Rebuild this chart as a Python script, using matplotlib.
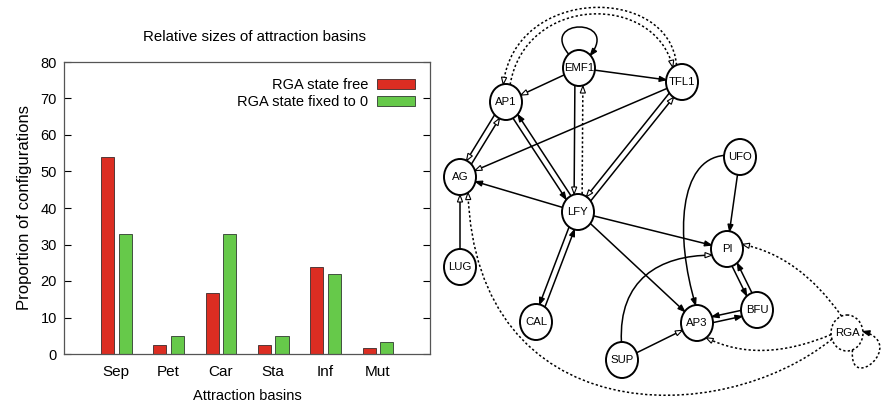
import matplotlib
matplotlib.use("Agg")
import matplotlib.pyplot as plt
import numpy as np
from matplotlib.patches import Ellipse, Polygon, PathPatch
from matplotlib.path import Path

# bar chart data
basins = ["Sep", "Pet", "Car", "Sta", "Inf", "Mut"]
rga_free = [54.0, 2.5, 16.7, 2.5, 23.7, 1.7]
rga_fixed = [33.0, 4.8, 33.0, 4.8, 22.0, 3.3]

# regulatory network, node centres in pixels (y grows downwards)
genes = ["EMF1", "TFL1", "AP1", "AG", "LFY", "UFO", "LUG",
         "PI", "CAL", "AP3", "BFU", "SUP", "RGA"]
gene_x = [579, 682, 506, 460, 578, 740, 460, 727, 536, 697, 757, 622, 847]
gene_y = [68, 82, 102, 177, 212, 157, 267, 249, 322, 323, 310, 360, 333]

# straight interactions: source, target, line, head, side shift
links = [
    ("EMF1", "TFL1", "solid", "fill", 0),
    ("EMF1", "AP1", "solid", "open", 0),
    ("EMF1", "LFY", "solid", "open", 4),
    ("LFY", "EMF1", "dashed", "open", 4),
    ("TFL1", "AG", "solid", "open", 0),
    ("LFY", "TFL1", "solid", "open", 3),
    ("TFL1", "LFY", "solid", "open", 3),
    ("AP1", "AG", "solid", "open", 3),
    ("AG", "AP1", "solid", "open", 3),
    ("AP1", "LFY", "solid", "fill", 3),
    ("LFY", "AP1", "solid", "fill", 3),
    ("LFY", "AG", "solid", "fill", 0),
    ("LUG", "AG", "solid", "open", 0),
    ("LFY", "CAL", "solid", "fill", 3),
    ("CAL", "LFY", "solid", "fill", 3),
    ("LFY", "PI", "solid", "fill", 0),
    ("LFY", "AP3", "solid", "fill", 0),
    ("UFO", "PI", "solid", "fill", 0),
    ("SUP", "AP3", "solid", "open", 0),
    ("AP3", "BFU", "solid", "fill", 3),
    ("BFU", "AP3", "solid", "fill", 3),
    ("PI", "BFU", "solid", "fill", 3),
    ("BFU", "PI", "solid", "fill", 3),
]

# curved interactions: source, angle, target, angle, handle at source, handle at target, line, head
arcs = [
    ("EMF1", 130, "EMF1", 45, (-30, -36), (30, -38), "solid", "fill"),
    ("TFL1", 110, "AP1", 100, (-7, -80), (12, -99), "dashed", "open"),
    ("AP1", 75, "TFL1", 125, (15, -90), (-18, -75), "dashed", "open"),
    ("UFO", 175, "AP3", 95, (-45, 4), (-21, -70), "solid", "fill"),
    ("SUP", 92, "PI", 200, (-3, -62), (-53, 0), "solid", "open"),
    ("RGA", 200, "AG", 300, (-113, 91), (8, 237), "dashed", "open"),
    ("RGA", 185, "AP3", 305, (-48, 20), (36, 18), "dashed", "open"),
    ("RGA", 110, "PI", 15, (-29, -41), (38, 8), "dashed", "open"),
    ("RGA", 290, "RGA", 5, (-4, 45), (45, 12), "dashed", "fill"),
]

RX, RY = 16, 18
DOTS = (0, (1.5, 1.5))
pos = {g: np.array([x, y], float) for g, x, y in zip(genes, gene_x, gene_y)}


def rim(u):
    return 1.0 / np.hypot(u[0] / RX, u[1] / RY)


def rim_point(name, ang):
    a = np.radians(ang)
    return pos[name] + np.array([RX * np.cos(a), -RY * np.sin(a)])


def draw_head(ax, tip, d, kind):
    d = d / np.hypot(*d)
    n = np.array([-d[1], d[0]])
    base = tip - 7 * d
    pts = [tip, base + 2.6 * n, base - 2.6 * n]
    ax.add_patch(Polygon(pts, closed=True, lw=0.8, ec="black",
                         fc="black" if kind == "fill" else "white", zorder=4))


fig = plt.figure(figsize=(8.83, 4.11), dpi=100)
plt.rcParams["font.family"] = ["Liberation Sans", "DejaVu Sans"]

# ---- left: bar chart ----
ax = fig.add_axes([64 / 883, 1 - 354 / 411, 366 / 883, 292 / 411])
x = np.arange(len(basins))
ax.bar(x - 0.165, rga_free, 0.25, color="#dc2d22", edgecolor="#3a2a2a", lw=0.6,
       label="RGA state free")
ax.bar(x + 0.17, rga_fixed, 0.25, color="#66c94a", edgecolor="#2f3a2f", lw=0.6,
       label="RGA state fixed to 0")
ax.set_xlim(-1, 6)
ax.set_ylim(0, 80)
ax.set_yticks(range(0, 81, 10))
ax.set_xticks(x)
ax.set_xticklabels(basins)
ax.tick_params(axis="y", direction="in", right=True, length=5, labelsize=10.5, pad=5)
ax.tick_params(axis="x", length=0, labelsize=11, pad=8)
for s in ax.spines.values():
    s.set_color("#555555")
    s.set_linewidth(0.9)
ax.set_title("Relative sizes of attraction basins", fontsize=10.8, pad=15, x=0.52)
ax.set_xlabel("Attraction basins", fontsize=10.5, labelpad=7)
ax.set_ylabel("Proportion of configurations", fontsize=12, labelpad=6)
ax.legend(loc="upper right", bbox_to_anchor=(0.995, 0.99), frameon=False,
          markerfirst=False, fontsize=10.5, handlelength=2.6, handletextpad=0.6,
          labelspacing=0.2)

# ---- right: network ----
net = fig.add_axes([440 / 883, 0, 443 / 883, 1])
net.set_xlim(440, 883)
net.set_ylim(411, 0)
net.axis("off")

for s, t, line, kind, shift in links:
    p, q = pos[s], pos[t]
    u = (q - p) / np.hypot(*(q - p))
    n = np.array([-u[1], u[0]])
    a = p + shift * n + u * rim(u)
    b = q + shift * n - u * rim(u)
    net.plot([a[0], b[0]], [a[1], b[1]], color="black", lw=1.1,
             ls=DOTS if line == "dashed" else "-", zorder=2)
    draw_head(net, b, u, kind)

for s, a1, t, a2, h1, h2, line, kind in arcs:
    p0 = rim_point(s, a1)
    p3 = rim_point(t, a2)
    p1 = p0 + np.array(h1)
    p2 = p3 + np.array(h2)
    path = Path([p0, p1, p2, p3], [Path.MOVETO, Path.CURVE4, Path.CURVE4, Path.CURVE4])
    net.add_patch(PathPatch(path, fc="none", ec="black", lw=1.1,
                            ls=DOTS if line == "dashed" else "-", zorder=2))
    draw_head(net, p3, p3 - p2, kind)

for g in genes:
    dashed = g == "RGA"
    net.add_patch(Ellipse(pos[g], 2 * RX, 2 * RY, fc="white", ec="black",
                          lw=1.1 if dashed else 1.4, ls=DOTS if dashed else "-",
                          zorder=3 if not dashed else 1))
    net.text(pos[g][0], pos[g][1], g, ha="center", va="center", zorder=5,
             family="Liberation Sans", fontsize=8.2)

fig.savefig("out.png", dpi=100, facecolor="white")
